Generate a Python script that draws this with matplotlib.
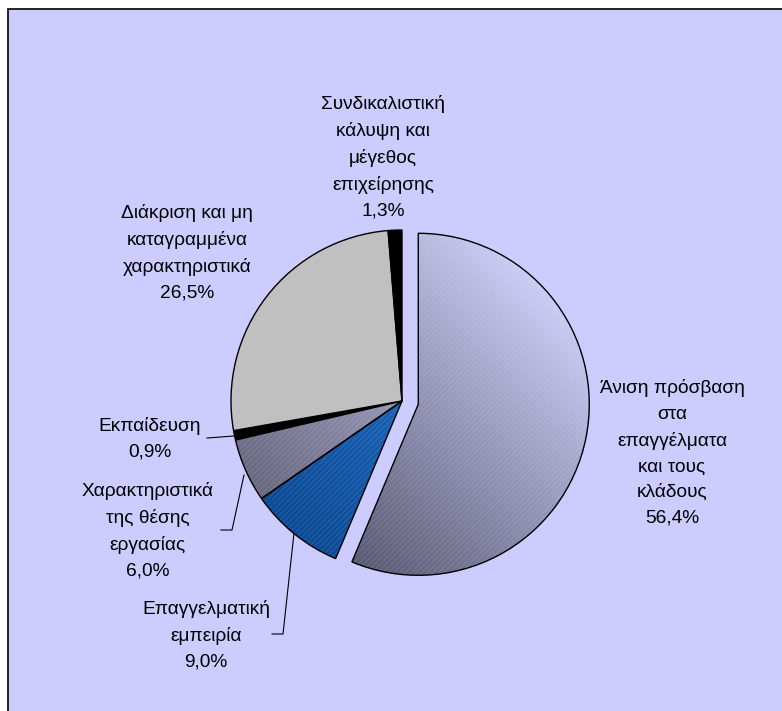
import matplotlib
matplotlib.use("Agg")
import matplotlib.pyplot as plt
import numpy as np
from matplotlib.patches import Rectangle, Wedge
from matplotlib.colors import LinearSegmentedColormap

W, H = 782, 711

# slices, clockwise from 12 o'clock
categories = [
    "Άνιση πρόσβαση\nστα\nεπαγγέλματα\nκαι τους\nκλάδους",
    "Επαγγελματική\nεμπειρία",
    "Χαρακτηριστικά\nτης θέσης\nεργασίας",
    "Εκπαίδευση",
    "Διάκριση και μη\nκαταγραμμένα\nχαρακτηριστικά",
    "Συνδικαλιστική\nκάλυψη και\nμέγεθος\nεπιχείρησης",
]
shares = [56.4, 9.0, 6.0, 0.9, 26.5, 1.3]

# layout (pixel coords measured from the top-left corner)
pie_center = (402, 401)
pie_radius = 171
explode = [16.6, 0, 0, 0, 0, 0]   # pie() offsets in data units
label_pos = [(672, 453), (206, 635), (148, 531), (150, 439), (187, 253), (383, 157)]
leaders = [
    None,
    [(272, 634), (283, 634), (294, 533)],
    [(221, 530), (232, 530), (244, 475)],
    [(207, 438), (234, 436)],
    None,
    None,
]
flat_colors = ["#9a9ac0", "#1a5eb4", "#a0a0c8", "#000000", "#c0c0c0", "#000000"]
gradients = {
    0: ("#cbcbf4", "#55556f"),
    1: ("#2a7ad8", "#0b4a94"),
    2: ("#cacaf2", "#66667f"),
}

plt.rcParams["font.family"] = ["Liberation Sans", "DejaVu Sans"]
plt.rcParams["hatch.linewidth"] = 0.6

fig = plt.figure(figsize=(W / 100, H / 100), dpi=100, facecolor="white")
ax = fig.add_axes([0, 0, 1, 1])


def fy(y):
    return H - y


ax.add_patch(Rectangle((7.5, -20), 900, fy(8.5) + 20, facecolor="#ccccff",
                       edgecolor="black", linewidth=1.2, zorder=0))

wedges, _ = ax.pie(shares, colors=flat_colors, startangle=90, counterclock=False,
                   explode=explode, radius=pie_radius,
                   center=(pie_center[0], fy(pie_center[1])),
                   wedgeprops=dict(edgecolor="black", linewidth=1.0))

for i, (light, dark) in gradients.items():
    w = wedges[i]
    cx, cy = w.center
    r = w.r
    w.set_facecolor("none")
    w.set_zorder(4)
    n = 300
    xs = np.linspace(cx - r, cx + r, n)
    ys = np.linspace(cy - r, cy + r, n)
    X, Y = np.meshgrid(xs, ys)
    # light toward the upper right, dark toward the lower left
    t = 1 - ((X - cx) + (Y - cy)) / (2 * np.sqrt(2) * r) - 0.5
    t = np.clip(t, 0, 1)
    cmap = LinearSegmentedColormap.from_list(f"g{i}", [light, dark])
    im = ax.imshow(t, cmap=cmap, vmin=0, vmax=1, origin="lower",
                   extent=(cx - r, cx + r, cy - r, cy + r), zorder=2,
                   interpolation="bilinear")
    im.set_clip_path(w)
    hatch = Wedge(w.center, w.r, w.theta1, w.theta2, facecolor="none",
                  edgecolor=(1, 1, 1, 0.13), linewidth=0, hatch="//////", zorder=3)
    ax.add_patch(hatch)

for name, val, (lx, ly), lead in zip(categories, shares, label_pos, leaders):
    txt = f"{name}\n{val:.1f}%".replace(".", ",")
    ax.text(lx, fy(ly), txt, ha="center", va="center", multialignment="center",
            fontsize=13.8, linespacing=1.65, color="black", zorder=5)
    if lead:
        ax.plot([p[0] for p in lead], [fy(p[1]) for p in lead], color="black",
                linewidth=0.8, zorder=5)

ax.set_xlim(0, W)
ax.set_ylim(0, H)
ax.set_aspect("auto")
ax.axis("off")

fig.savefig("out.png", dpi=100, facecolor="white")
